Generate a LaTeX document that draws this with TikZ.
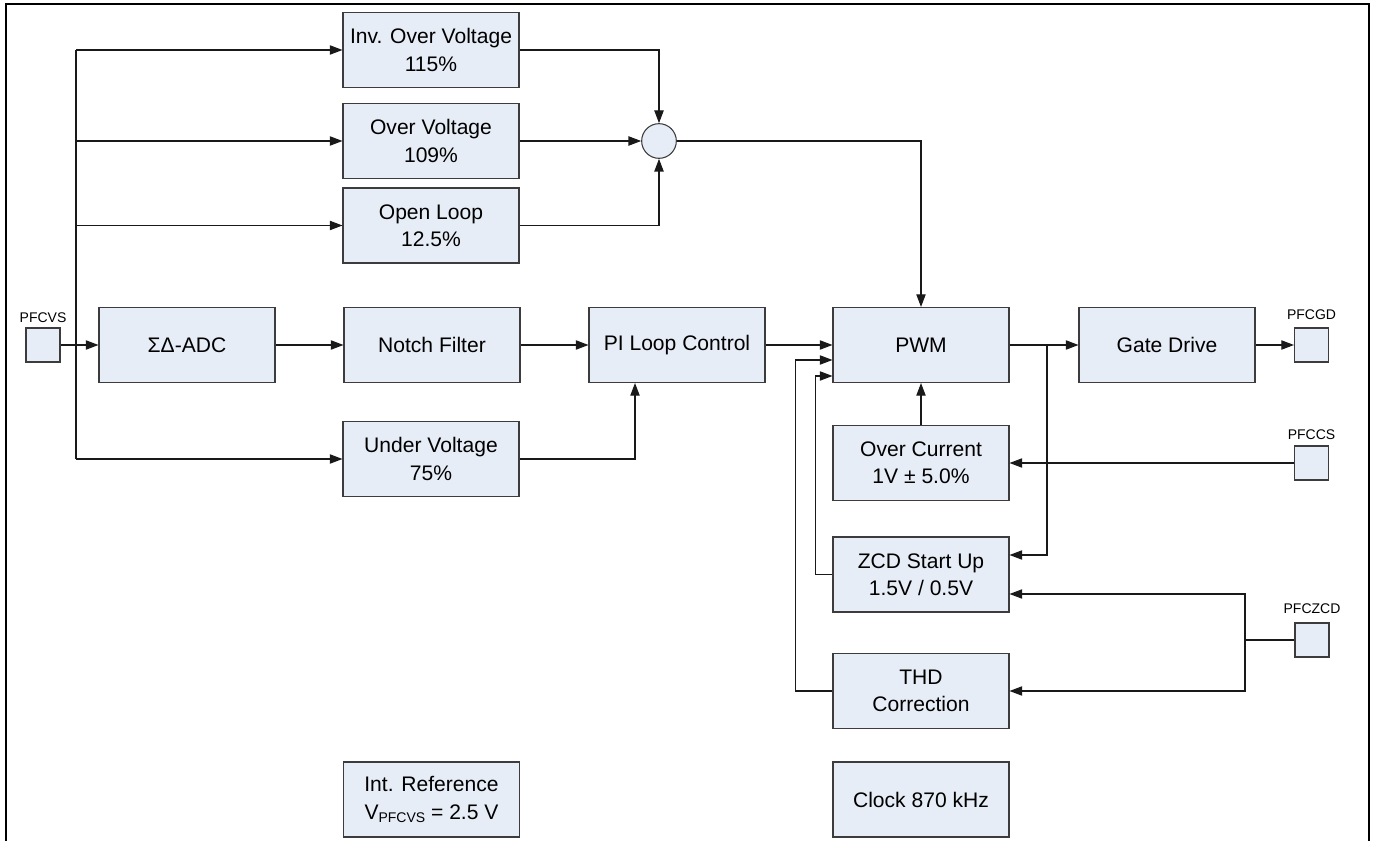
\documentclass[tikz,border=0pt]{standalone}
\usepackage{fontspec}
\setmainfont{Liberation Sans}
\usetikzlibrary{arrows.meta,calc,positioning}
\definecolor{boxfill}{RGB}{231,237,247}
\definecolor{boxline}{RGB}{60,60,60}
\definecolor{wire}{RGB}{25,25,25}
\tikzset{
  blk/.style={draw=boxline, line width=0.8pt, fill=boxfill, minimum width=132pt, minimum height=56.25pt, inner sep=0pt, align=center, font=\fontsize{15.8}{20.5}\selectfont},
  pin/.style={draw=boxline, line width=0.8pt, fill=boxfill, minimum width=25.5pt, minimum height=25.5pt, inner sep=0pt},
  pinlabel/.style={font=\fontsize{10.5}{12}\selectfont, inner sep=0pt},
  sumnode/.style={circle, draw=boxline, line width=0.8pt, fill=boxfill, minimum size=26pt, inner sep=0pt},
  wirel/.style={draw=wire, line width=0.8pt},
  arr/.style={wirel, -{Triangle[length=9.5pt,width=7pt]}},
}
\begin{document}
\begin{tikzpicture}[x=0.75pt,y=-0.75pt]
\useasboundingbox (0,0) rectangle (1375,841);
% frame
\draw[line width=2.2pt,black] (6,841) -- (6,4) -- (1369,4) -- (1369,841);

% pins
\node[pin] (pfcvs) at (43,345) {};
\node[pinlabel] (pfcvsl) at (43,318) {PFCVS};
\node[pin] (pfcgd) at (1311.5,345) {};
\node[pinlabel] (pfcgdl) at (1311.5,315) {PFCGD};
\node[pin] (pfccs) at (1311.5,463) {};
\node[pinlabel] (pfccsl) at (1311.5,435) {PFCCS};
\node[pin] (pfczcd) at (1312,640) {};
\node[pinlabel] (pfczcdl) at (1312,609) {PFCZCD};

% blocks
\node[blk] (adc) at (187,345) {ΣΔ-ADC};
\node[blk] (notch) at (432,345) {Notch Filter};
\node[blk] (pi) at (677,345) {PI Loop Control};
\node[blk] (pwm) at (921,345) {PWM};
\node[blk] (gd) at (1167,345) {Gate Drive};
\node[blk] (inv) at (431,50) {Inv. Over Voltage\\115\%};
\node[blk] (ov) at (431,141) {Over Voltage\\109\%};
\node[blk] (ol) at (431,225.5) {Open Loop\\12.5\%};
\node[blk] (uv) at (431,459) {Under Voltage\\75\%};
\node[blk] (oc) at (921,463) {Over Current\\1V ± 5.0\%};
\node[blk] (zcd) at (921,574.5) {ZCD Start Up\\1.5V / 0.5V};
\node[blk] (thd) at (921,691) {THD\\Correction};
\node[blk] (clk) at (921,799.5) {Clock 870 kHz};
\node[blk] (iref) at (431.5,799.5) {Int. Reference\\V\raisebox{-2.2pt}{\fontsize{10.5}{12}\selectfont PFCVS} = 2.5 V};
\node[sumnode] (sum) at (659,141) {};

% coordinates
\coordinate (bus) at (76,345);
\coordinate (brpwm) at (1047,345);
\coordinate (jz) at (1245,640);

% input bus
\draw[arr] (pfcvs.east) -- (adc.west);
\draw[wirel] (bus) -- (76,50);
\draw[wirel] (bus) -- (76,459);
\draw[arr] (76,50) -- (inv.west);
\draw[arr] (76,141) -- (ov.west);
\draw[arr] (76,225.5) -- (ol.west);
\draw[arr] (76,459) -- (uv.west);

% protection to summing node
\draw[arr] (inv.east) -| (sum.north);
\draw[arr] (ov.east) -- (sum.west);
\draw[arr] (ol.east) -| (sum.south);
\draw[arr] (sum.east) -| (pwm.north);

% main chain
\draw[arr] (adc.east) -- (notch.west);
\draw[arr] (notch.east) -- (pi.west);
\draw[arr] (uv.east) -| ($(pi.south)+(-42,0)$);
\draw[arr] (pi.east) -- (pwm.west);
\draw[arr] (pwm.east) -- (gd.west);
\draw[arr] (gd.east) -- (pfcgd.west);

% feedback into PWM
\draw[arr] (thd.west) -- ++(-37,0) |- ($(pwm.west)+(0,15)$);
\draw[arr] (zcd.west) -- ++(-17,0) |- ($(pwm.west)+(0,31)$);
\draw[arr] (oc.north) -- (pwm.south);
\draw[arr] (brpwm) |- ($(zcd.east)+(0,-19.5)$);

% pins to blocks
\draw[arr] (pfccs.west) -- (oc.east);
\draw[wirel] (pfczcd.west) -- (jz);
\draw[arr] (jz) |- ($(zcd.east)+(0,19.5)$);
\draw[arr] (jz) |- (thd.east);
\end{tikzpicture}
\end{document}
